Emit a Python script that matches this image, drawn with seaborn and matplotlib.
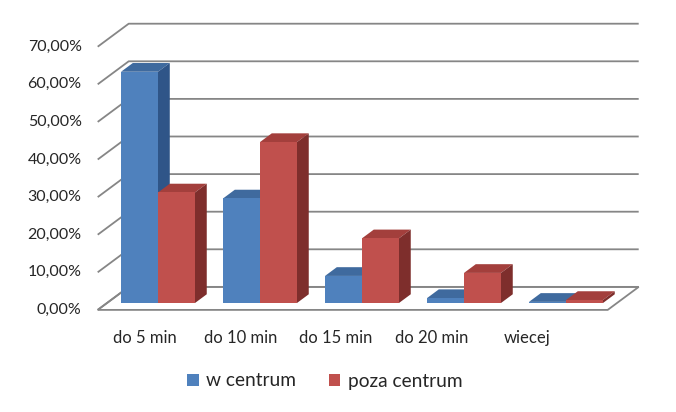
import matplotlib
matplotlib.use("Agg")
import matplotlib.pyplot as plt
from matplotlib.patches import Polygon, Patch
import seaborn as sns
import pandas as pd

categories = ["do 5 min", "do 10 min", "do 15 min", "do 20 min", "wiecej"]
series_names = ["w centrum", "poza centrum"]
w_centrum = [61.5, 27.8, 7.2, 1.3, 0.3]
poza_centrum = [29.4, 42.8, 17.2, 8.0, 0.8]
y_ticks = [0, 10, 20, 30, 40, 50, 60, 70]
y_tick_labels = ["0,00%", "10,00%", "20,00%", "30,00%", "40,00%", "50,00%", "60,00%", "70,00%"]

front_colors = ["#4F81BD", "#C0504D"]
top_colors = ["#3F6A9E", "#A33F3C"]
side_colors = ["#2F5588", "#7E2E2C"]

df = pd.DataFrame({
    "cat": categories * 2,
    "val": w_centrum + poza_centrum,
    "series": [series_names[0]] * 5 + [series_names[1]] * 5,
})

sns.set_theme(style="white")
plt.rcParams["font.family"] = ["Lato", "DejaVu Sans"]

W, H = 676, 412
fig = plt.figure(figsize=(W / 100, H / 100), dpi=100)
ax = fig.add_axes([0, 0, 1, 1])

# pixel mapping helpers (layout only)
PX0, PXS = 158.0, 102.0   # category 0 centre pixel, px per category
PY0, PYS = 303.0, 3.76    # value 0 pixel row, px per percent

DX = 31.0 / PXS   # depth offset in x data units (full depth)
DY = 23.0 / PYS   # depth offset in y data units
D_FRONT, D_BACK, D_BAR = -0.30, 0.70, 0.38
X0, X1 = -0.5, 4.5
GRID = "#868686"
TXT = "#262626"

def P(x, v, d):
    return (x + d * DX, v + d * DY)

# front faces via seaborn
sns.barplot(data=df, x="cat", y="val", hue="series", order=categories,
            hue_order=series_names, palette=front_colors, width=0.725,
            saturation=1, ax=ax, legend=False, linewidth=0)

ax.set_xlim(-PX0 / PXS, (W - PX0) / PXS)
ax.set_ylim((PY0 - H) / PYS, PY0 / PYS)
ax.axis("off")

# floor
floor = Polygon([P(X0, 0, D_FRONT), P(X1, 0, D_FRONT), P(X1, 0, D_BACK), P(X0, 0, D_BACK)],
                closed=True, facecolor="white", edgecolor=GRID, lw=1.3, zorder=1)
ax.add_patch(floor)

# back wall + left wall gridlines
for g in y_ticks:
    xa, ya = P(X0, g, D_FRONT)
    xb, yb = P(X0, g, D_BACK)
    xc, yc = P(X1, g, D_BACK)
    ax.plot([xa, xb, xc], [ya, yb, yc], color=GRID, lw=1.3, zorder=1.5, solid_capstyle="butt")

bars = []
for si, cont in enumerate(ax.containers):
    for p in cont.patches:
        bars.append((p.get_x(), si, p))
bars.sort(key=lambda t: t[0])
for r, (_, si, p) in enumerate(bars):
    x, w, h = p.get_x(), p.get_width(), p.get_height()
    p.set_zorder(3 + 2 * r)
    top = Polygon([P(x, h, 0), P(x + w, h, 0), P(x + w, h, D_BAR), P(x, h, D_BAR)],
                  closed=True, facecolor=top_colors[si], edgecolor="none", zorder=2 + 2 * r)
    side = Polygon([P(x + w, 0, 0), P(x + w, h, 0), P(x + w, h, D_BAR), P(x + w, 0, D_BAR)],
                   closed=True, facecolor=side_colors[si], edgecolor="none", zorder=2 + 2 * r)
    ax.add_patch(top)
    ax.add_patch(side)

# y tick labels on the front plane
for g, lab in zip(y_ticks, y_tick_labels):
    xa, ya = P(X0, g, D_FRONT)
    ax.text(xa - 16.0 / PXS, ya, lab, ha="right", va="center", fontsize=11.5, color=TXT)

# category labels
for i, c in enumerate(categories):
    px = 145 + 95.5 * i
    ax.text((px - PX0) / PXS, (PY0 - 338) / PYS, c, ha="center", va="center",
            fontsize=12, color=TXT)

handles = [Patch(facecolor=front_colors[k], edgecolor="none", label=series_names[k]) for k in range(2)]
leg = fig.legend(handles=handles, loc="center", bbox_to_anchor=(325 / W, 1 - 381 / H), ncol=2,
                 frameon=False, fontsize=13.8, handlelength=0.6, handleheight=0.6,
                 handletextpad=0.4, columnspacing=1.7)
for t in leg.get_texts():
    t.set_color(TXT)

fig.savefig("out.png", dpi=100, facecolor="white")
